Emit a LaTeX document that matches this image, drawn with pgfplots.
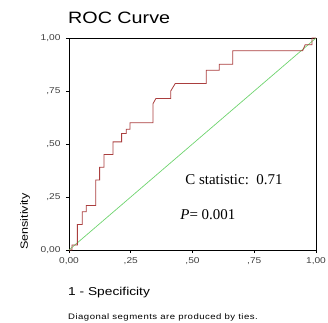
\documentclass[border=0pt]{standalone}
\usepackage{fontspec}
\setmainfont{Liberation Sans}[FakeStretch=1.2]
\newfontfamily\seriffont{Liberation Serif}
\newfontfamily\footfont{Liberation Sans}[FakeStretch=1.2, LetterSpace=6]
\usepackage{pgfplots}
\pgfplotsset{compat=1.18}
\definecolor{roc}{RGB}{170,62,62}
\definecolor{diag}{RGB}{110,212,110}
\begin{document}
\begin{tikzpicture}
\path[use as bounding box] (-69bp,-73bp) rectangle (259bp,250bp);
\begin{axis}[
  scale only axis, width=247bp, height=212bp,
  xmin=0, xmax=1, ymin=0, ymax=1,
  clip=false,
  axis line style={black, line width=0.8pt},
  tick align=outside, major tick length=3bp,
  tick style={black, line width=0.6pt},
  xtick pos=bottom, ytick pos=left,
  xtick={0,0.25,0.5,0.75,1}, ytick={0,0.25,0.5,0.75,1},
  xticklabels={{0,00},{,25},{,50},{,75},{1,00}},
  yticklabels={{0,00},{,25},{,50},{,75},{1,00}},
  /pgf/number format/assume math mode=true,
  ticklabel style={font=\fontsize{8.5}{10}\selectfont, text=black!75},
  xticklabel style={yshift=-1bp},
  yticklabel style={xshift=-2bp},
]
\addplot[diag, line width=0.7pt] coordinates {(0,0) (1,1)};
\addplot[roc, line width=0.8pt] coordinates {
(0,0) (0.012,0) (0.012,0.024) (0.034,0.024) (0.034,0.12) (0.054,0.12)
(0.054,0.18) (0.070,0.18) (0.070,0.21) (0.108,0.21) (0.108,0.33)
(0.124,0.33) (0.124,0.39) (0.142,0.39) (0.142,0.45) (0.178,0.45)
(0.178,0.51) (0.213,0.51) (0.213,0.55) (0.232,0.55) (0.232,0.57)
(0.247,0.57) (0.247,0.60) (0.340,0.60) (0.340,0.69) (0.352,0.715)
(0.412,0.715) (0.412,0.75) (0.430,0.785) (0.556,0.785) (0.556,0.848)
(0.608,0.848) (0.608,0.876) (0.663,0.876) (0.663,0.940) (0.946,0.940)
(0.956,0.968) (0.984,0.968) (0.984,1) (1,1)};
\node[anchor=base west, font=\seriffont\fontsize{15}{17}\selectfont] at (axis cs:0.457,0.307) {C statistic:\ \ 0.71};
\node[anchor=base west, font=\seriffont\fontsize{15}{17}\selectfont] at (axis cs:0.437,0.146) {\textit{P}= 0.001};
\end{axis}
\node[anchor=base west, font=\fontsize{16.5}{19}\selectfont, inner sep=0pt] at (-1bp,226bp) {ROC Curve};
\node[anchor=base west, font=\fontsize{11.5}{14}\selectfont, inner sep=0pt] at (-1bp,-45bp) {1 - Specificity};
\node[anchor=base west, font=\footfont\fontsize{8}{9}\selectfont, inner sep=0pt] at (-1bp,-69bp) {Diagonal segments are produced by ties.};
\node[anchor=base west, rotate=90, font=\fontsize{10.5}{12}\selectfont, inner sep=0pt] at (-41bp,0bp) {Sensitivity};
\end{tikzpicture}
\end{document}
